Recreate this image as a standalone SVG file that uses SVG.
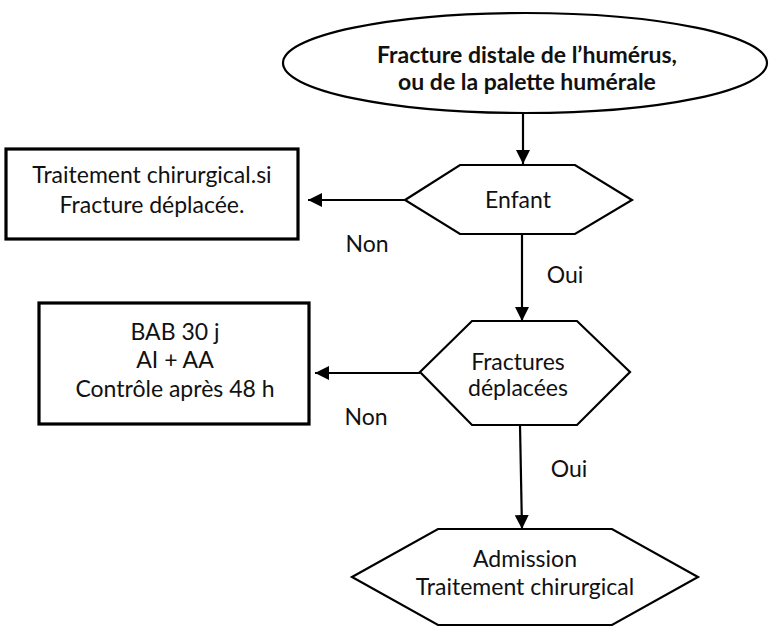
<svg xmlns="http://www.w3.org/2000/svg" width="781" height="627" viewBox="0 0 781 627">
<style>
text{font-family:Lato,"Liberation Sans",sans-serif;fill:#111;text-anchor:middle;font-size:23px}
.b{font-weight:bold;font-size:23px}
.shape{fill:#fff;stroke:#000;stroke-width:2.2}
.box{fill:#fff;stroke:#000;stroke-width:3.2}
.conn{stroke:#000;stroke-width:2.2;fill:none}
</style>
<defs>
<marker id="ah" markerWidth="14" markerHeight="14" viewBox="0 0 14 14" refX="14" refY="7" orient="auto" markerUnits="userSpaceOnUse">
<path d="M0,0 L14,7 L0,14 Z" fill="#000"/>
</marker>
</defs>
<g id="start">
<ellipse class="shape" cx="525" cy="63" rx="242" ry="50"/>
<text class="b" x="527" y="63">Fracture distale de l’humérus,</text>
<text class="b" x="527" y="90">ou de la palette humérale</text>
</g>
<g id="enfant">
<polygon class="shape" points="405,200 460,165 575,165 632,200 575,234 460,234"/>
<text x="518" y="208">Enfant</text>
</g>
<g id="box1">
<rect class="box" x="6" y="149" width="292" height="90"/>
<text x="152" y="183">Traitement chirurgical.si</text>
<text x="152" y="213">Fracture déplacée.</text>
</g>
<g id="fractures">
<polygon class="shape" points="420,372 472,321 577,321 630,372 577,425 472,425"/>
<text x="518" y="370">Fractures</text>
<text x="518" y="396">déplacées</text>
</g>
<g id="box2">
<rect class="box" x="39" y="303" width="270" height="121"/>
<text x="175" y="340">BAB 30 j</text>
<text x="175" y="368">AI + AA</text>
<text x="175" y="397">Contrôle après 48 h</text>
</g>
<g id="admission">
<polygon class="shape" points="352,577 438,529 612,529 698,577 612,625 438,625"/>
<text x="525" y="567">Admission</text>
<text x="525" y="595">Traitement chirurgical</text>
</g>
<g id="connectors">
<line class="conn" x1="523" y1="113" x2="523" y2="164" marker-end="url(#ah)"/>
<line class="conn" x1="405" y1="200" x2="308" y2="200" marker-end="url(#ah)"/>
<line class="conn" x1="522" y1="234" x2="522" y2="321" marker-end="url(#ah)"/>
<line class="conn" x1="420" y1="373" x2="315" y2="373" marker-end="url(#ah)"/>
<line class="conn" x1="520" y1="425" x2="522" y2="529" marker-end="url(#ah)"/>
<text x="367" y="252">Non</text>
<text x="565" y="283">Oui</text>
<text x="366" y="425">Non</text>
<text x="569" y="477">Oui</text>
</g>
</svg>
